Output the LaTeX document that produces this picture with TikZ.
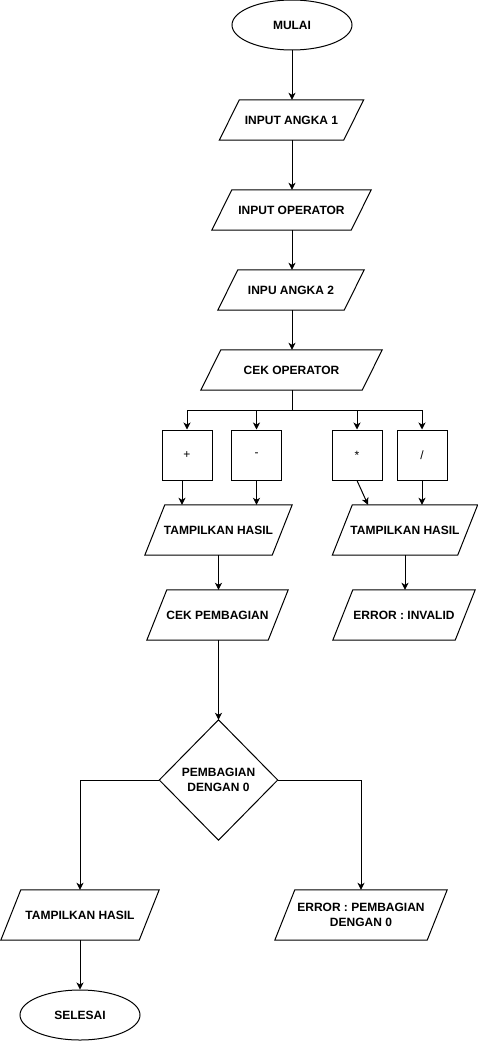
\documentclass[tikz,border=0pt]{standalone}
\usepackage{fontspec}
\setmainfont{Liberation Sans}
\usetikzlibrary{arrows.meta,shapes.geometric,calc}
\tikzset{
  shapeline/.style={draw=black, line width=1pt, line join=miter},
  iotext/.style={inner sep=0pt, align=center, font=\bfseries\fontsize{12}{15}\selectfont},
  term/.style={shapeline, ellipse, minimum width=120, minimum height=50, inner sep=0pt, align=center, font=\bfseries\fontsize{12}{15}\selectfont},
  opbox/.style={shapeline, rectangle, minimum width=50, minimum height=50, inner sep=0pt, font=\fontsize{12}{15}\selectfont},
  arr/.style={draw=black, line width=1pt, -{Stealth[length=7pt,width=7pt,inset=2pt]}},
  ln/.style={draw=black, line width=1pt}
}
\newcommand{\ionode}[6]{%
  \node[iotext, minimum width=#4, minimum height=#5] (#1) at (#2,#3) {#6};
  \draw[shapeline] ([xshift=20]#1.north west) -- (#1.north east) -- ([xshift=-20]#1.south east) -- (#1.south west) -- cycle;
}
\begin{document}
\begin{tikzpicture}[x=1pt,y=-1pt]
\useasboundingbox (0,0) rectangle (478,1041);
% main column
\node[term] (mulai) at (292,25) {MULAI};
\ionode{in1}{291.5}{120}{144}{40}{INPUT ANGKA 1}
\ionode{inop}{291.5}{210}{159}{40}{INPUT OPERATOR}
\ionode{in2}{291}{290}{146}{40}{INPU ANGKA 2}
\ionode{cekop}{291.5}{370}{181}{40}{CEK OPERATOR}
% operator boxes
\node[opbox] (plus) at (187,455) {+};
\node[opbox] (minus) at (256.5,455) {-};
\node[opbox] (times) at (357,455) {*};
\node[opbox] (div) at (422,455) {/};
% results
\ionode{tl1}{218.5}{530}{147}{50}{TAMPILKAN HASIL}
\ionode{tl2}{405}{530}{145}{50}{TAMPILKAN HASIL}
\ionode{cekpb}{217.5}{615}{141}{50}{CEK PEMBAGIAN}
\ionode{errinv}{404}{615}{142}{50}{ERROR : INVALID}
% decision
\node[iotext, minimum width=118, minimum height=120] (dia) at (218.5,780) {PEMBAGIAN\\DENGAN 0};
\draw[shapeline] (dia.north) -- (dia.east) -- (dia.south) -- (dia.west) -- cycle;
\ionode{tl3}{80}{915}{158}{50}{TAMPILKAN HASIL}
\ionode{err0}{361}{915}{172}{50}{ERROR : PEMBAGIAN\\DENGAN 0}
\node[term] (selesai) at (80,1015) {SELESAI};
% connectors
\draw[arr] (mulai.south) -- (mulai.south |- in1.north);
\draw[arr] (in1.south -| mulai.south) -- (mulai.south |- inop.north);
\draw[arr] (inop.south -| mulai.south) -- (mulai.south |- in2.north);
\draw[arr] (in2.south -| mulai.south) -- (mulai.south |- cekop.north);
\coordinate (br) at (292,410);
\draw[ln] (cekop.south -| mulai.south) -- (br);
\draw[arr] (br) -| (plus.north);
\draw[arr] (br) -| (minus.north);
\draw[arr] (br) -| (times.north);
\draw[arr] (br) -| (div.north);
\draw[arr] ([xshift=-5]plus.south) -- ([xshift=-5]plus.south |- tl1.north);
\draw[arr] (minus.south) -- (minus.south |- tl1.north);
\draw[arr] (times.south) -- ([xshift=-37]tl2.north);
\draw[arr] (div.south) -- (div.south |- tl2.north);
\draw[arr] (tl1.south) -- (tl1.south |- cekpb.north);
\draw[arr] (tl2.south) -- (tl2.south |- errinv.north);
\draw[arr] (cekpb.south -| dia.north) -- (dia.north);
\draw[arr] (dia.west) -| (tl3.north);
\draw[arr] (dia.east) -| (err0.north);
\draw[arr] (tl3.south) -- (selesai.north);
\end{tikzpicture}
\end{document}
